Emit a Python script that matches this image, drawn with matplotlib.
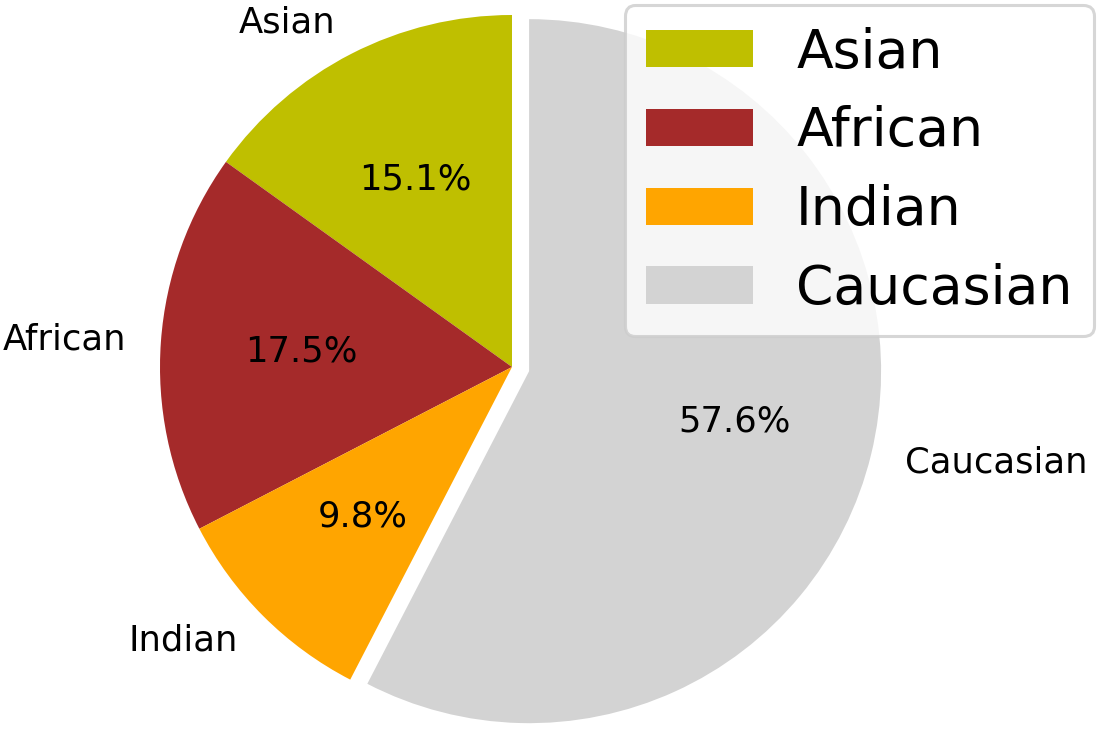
import matplotlib.pyplot as plt

# race breakdown
labels = ['Asian', 'African', 'Indian', 'Caucasian']
shares = [15.1, 17.5, 9.8, 57.6]
colors = ['#bfbf00', 'brown', 'orange', 'lightgray']
explode = [0, 0, 0, 0.05]

fig = plt.figure(figsize=(10.99, 7.29), dpi=100)
ax = fig.add_axes([0, 0, 1, 1])

ax.pie(shares, labels=labels, colors=colors, explode=explode,
       autopct='%1.1f%%', startangle=90, counterclock=True,
       textprops={'fontsize': 25.5})

# centre at (512, 367) px, radius 352 px
ax.set_aspect('auto')
ax.set_xlim(-512 / 352, (1099 - 512) / 352)
ax.set_ylim(-(729 - 367) / 352, 367 / 352)

leg = ax.legend(loc='upper right', bbox_to_anchor=(1094 / 1099, 1 - 5 / 729),
                bbox_transform=fig.transFigure, borderaxespad=0, fontsize=38.6)
leg.get_frame().set_linewidth(2.2)

fig.savefig('out.png', dpi=100)
